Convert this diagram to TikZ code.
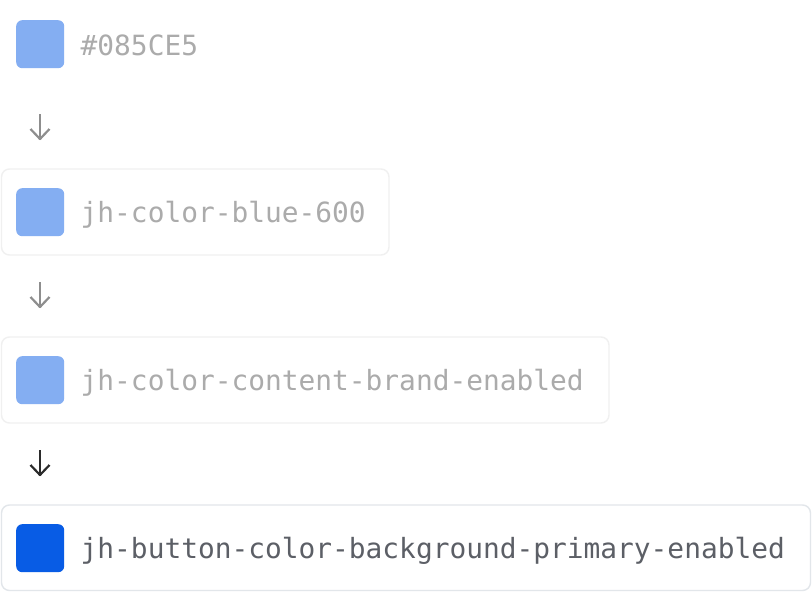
\documentclass[tikz,border=0pt]{standalone}
\usepackage{fontspec}
\setmonofont{DejaVu Sans Mono}
\definecolor{swlight}{HTML}{84AEF2}
\definecolor{swdark}{HTML}{085CE5}
\definecolor{txtlight}{HTML}{ABABAB}
\definecolor{txtdark}{HTML}{5C5F66}
\definecolor{boxlight}{HTML}{F0F0F0}
\definecolor{boxdark}{HTML}{E2E6EA}
\definecolor{arrlight}{HTML}{8E8E8E}
\definecolor{arrdark}{HTML}{2B2B2B}
\tikzset{
  swatch/.style={rectangle, rounded corners=6pt, minimum width=48pt, minimum height=48pt, inner sep=0pt, anchor=north west},
  tokentext/.style={inner sep=0pt, anchor=base west, font=\ttfamily\fontsize{27.85}{30}\selectfont},
  tokenbox/.style={draw, line width=1.4pt, rounded corners=8pt},
  flow/.style={line width=2.2pt, line join=round},
}
\newcommand{\flowarrow}[3]{%
  \draw[flow, #3] (#1) -- ([yshift=1pt]#2);
  \draw[flow, #3] ([shift={(-9.5pt,10pt)}]#2) -- (#2) -- ([shift={(9.5pt,10pt)}]#2);
}
\begin{document}
\begin{tikzpicture}[x=1pt,y=-1pt]
\useasboundingbox[fill=white] (0,0) rectangle (812,592);
% boxes
\draw[tokenbox, boxlight] (1.5,169) rectangle (389,255);
\draw[tokenbox, boxlight] (1.5,337) rectangle (609,423);
\draw[tokenbox, boxdark] (1.5,505) rectangle (810.5,590.5);
% swatches
\node[swatch, fill=swlight] (s1) at (16,20) {};
\node[swatch, fill=swlight] (s2) at (16,188) {};
\node[swatch, fill=swlight] (s3) at (16,356) {};
\node[swatch, fill=swdark] (s4) at (16,524) {};
% texts
\node[tokentext, text=txtlight] (t1) at (80.5,55) {\#085CE5};
\node[tokentext, text=txtlight] (t2) at (80.5,222.5) {jh-color-blue-600};
\node[tokentext, text=txtlight] (t3) at (80.5,390.5) {jh-color-content-brand-enabled};
\node[tokentext, text=txtdark] (t4) at (80.5,558.5) {jh-button-color-background-primary-enabled};
% arrows
\coordinate (a1s) at (40,114); \coordinate (a1e) at (40,139);
\coordinate (a2s) at (40,282); \coordinate (a2e) at (40,307);
\coordinate (a3s) at (40,450); \coordinate (a3e) at (40,475);
\flowarrow{a1s}{a1e}{arrlight}
\flowarrow{a2s}{a2e}{arrlight}
\flowarrow{a3s}{a3e}{arrdark}
\end{tikzpicture}
\end{document}
